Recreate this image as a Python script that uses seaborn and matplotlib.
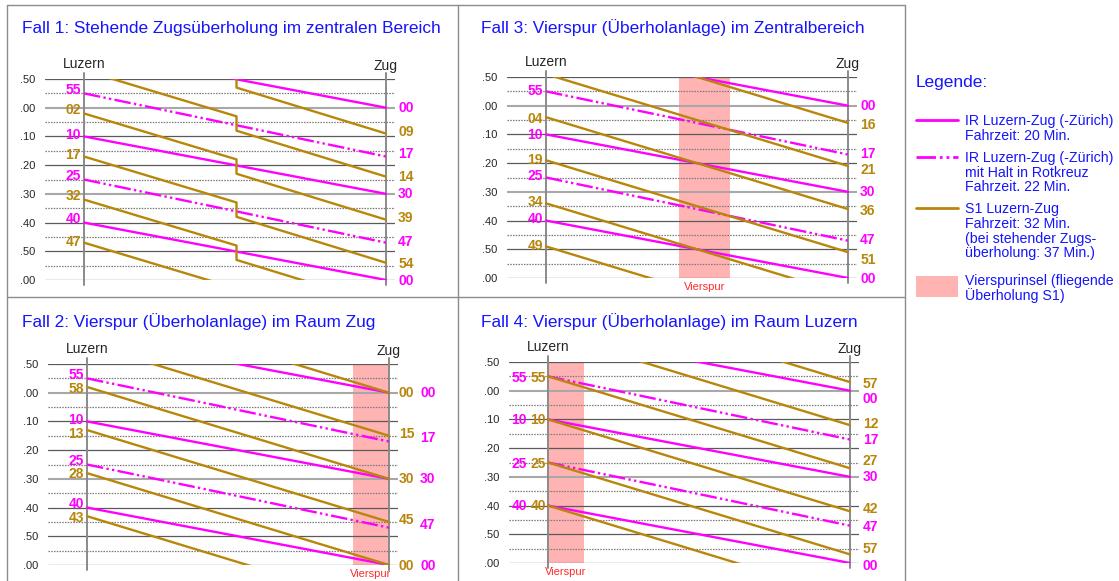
import matplotlib
matplotlib.use("Agg")
import matplotlib.pyplot as plt
from matplotlib.lines import Line2D
from matplotlib.patches import Rectangle
import seaborn as sns
import pandas as pd

# ---------------- data ----------------
TICK_T = [-10, 0, 10, 20, 30, 40, 50, 60]
TICK_LBL = [".50", ".00", ".10", ".20", ".30", ".40", ".50", ".00"]
MINOR_T = [-5, 5, 15, 25, 35, 45, 55]

# IR Luzern-Zug, 20 min
IR_DEP = [-20, 10, 40]
IR_ARR = [0, 30, 60]
# IR with stop in Rotkreuz, 22 min
IRR_DEP = [-35, -5, 25]
IRR_ARR = [-13, 17, 47]

# Fall 1: S1 with standing overtaking in the middle
F1_S1_X = [0.0, 0.505, 0.505, 1.0]
F1_S1_T = [[-28, -12, -7, 9], [-13, 3, 8, 24], [2, 18, 23, 39],
           [17, 33, 38, 54], [32, 48, 53, 69], [47, 63, 68, 84]]
# Fall 2/3/4: S1 32 min
F2_S1_DEP = [-32, -17, -2, 13, 28, 43]
F2_S1_ARR = [0, 15, 30, 45, 60, 75]
F3_S1_DEP = [-26, -11, 4, 19, 34, 49]
F3_S1_ARR = [6, 21, 36, 51, 66, 81]
F4_S1_DEP = [-35, -20, -5, 10, 25, 40]
F4_S1_ARR = [-3, 12, 27, 42, 57, 72]

VIERSPUR = {2: (0.88, 1.0), 3: (0.44, 0.61), 4: (0.0, 0.12)}

TITLES = {1: "Fall 1: Stehende Zugsüberholung im zentralen Bereich",
          2: "Fall 2: Vierspur (Überholanlage) im Raum Zug",
          3: "Fall 3: Vierspur (Überholanlage) im Zentralbereich",
          4: "Fall 4: Vierspur (Überholanlage) im Raum Luzern"}

# time labels: (text, y, colour kind)
P1_LEFT_TXT = ["55", "02", "10", "17", "25", "32", "40", "47"]
P1_LEFT_Y = [-6.3, 0.9, 9.4, 16.4, 23.7, 30.6, 38.7, 46.6]
P1_RIGHT_TXT = ["00", "09", "17", "14", "30", "39", "47", "54", "00"]
P1_RIGHT_Y = [0.0, 8.6, 16.0, 24.3, 30.1, 38.4, 46.6, 54.3, 60.2]

P3_LEFT_TXT = ["55", "04", "10", "19", "25", "34", "40", "49"]
P3_LEFT_Y = [-5.0, 4.6, 10.1, 18.9, 24.5, 33.7, 39.6, 48.9]
P3_RIGHT_TXT = ["00", "16", "17", "21", "30", "36", "47", "51", "00"]
P3_RIGHT_Y = [0.2, 6.6, 16.8, 22.4, 29.9, 36.6, 46.8, 53.8, 60.3]

P2_LEFT_TXT = ["55", "58", "10", "13", "25", "28", "40", "43"]
P2_LEFT_Y = [-6.2, -1.3, 9.5, 14.4, 23.8, 28.4, 38.8, 43.5]
P2_RIGHT_G_TXT = ["00", "15", "30", "45", "00"]
P2_RIGHT_G_Y = [0.0, 14.4, 30.0, 44.4, 60.3]
P2_RIGHT_M_TXT = ["00", "17", "30", "47", "00"]
P2_RIGHT_M_Y = [0.0, 15.7, 30.0, 46.2, 60.3]

P4_LEFT_TXT = ["55", "10", "25", "40"]
P4_LEFT_Y = [-4.4, 10.3, 25.4, 40.3]
P4_RIGHT_TXT = ["57", "00", "12", "17", "27", "30", "42", "47", "57", "00"]
P4_RIGHT_Y = [-2.5, 2.8, 11.5, 17.3, 24.6, 30.1, 41.1, 47.5, 55.0, 61.2]

# ---------------- style ----------------
W, H = 1119, 581
MAG = "#FF00FF"
GOLD = "#B8860B"
PINK = "#FFB3B3"
BLUE = "#1414FF"
RED = "#FF2A2A"
PAL = {"IR": MAG, "IRR": MAG, "S1": GOLD}
DASHES = {"IR": "", "IRR": (7, 1.4, 1, 1.4, 1, 1.4), "S1": ""}

sns.set_style("white")
plt.rcParams['font.family'] = ['Liberation Sans', 'DejaVu Sans']

fig = plt.figure(figsize=(W / 100, H / 100), dpi=100)


def fx(px):
    return px / W


def fy(py):
    return 1 - py / H


UNIT = 302.0
AX_H = 201.0


def build_df(s1_x, s1_t):
    rows = []
    tid = 0
    for d, a in zip(IR_DEP, IR_ARR):
        for x, t in zip([0.0, 1.0], [d, a]):
            rows.append(dict(train=tid, kind="IR", x=x, t=t))
        tid += 1
    for d, a in zip(IRR_DEP, IRR_ARR):
        for x, t in zip([0.0, 1.0], [d, a]):
            rows.append(dict(train=tid, kind="IRR", x=x, t=t))
        tid += 1
    for ts in s1_t:
        for x, t in zip(s1_x, ts):
            rows.append(dict(train=tid, kind="S1", x=x, t=t))
        tid += 1
    return pd.DataFrame(rows)


def make_panel(case, lx, ty, df):
    left = lx - 0.13 * UNIT
    ax = fig.add_axes([fx(left), fy(ty + AX_H), 1.16 * UNIT / W, AX_H / H])
    ax.set_facecolor("white")
    if case in VIERSPUR:
        a, b = VIERSPUR[case]
        ax.axvspan(a, b, color=PINK, lw=0, zorder=0)
    for t in TICK_T:
        if t in (0, 30):
            ax.axhline(t, color="#A8A8A8", lw=1.5, zorder=1)
        else:
            ax.axhline(t, color="#5A5A5A", lw=0.9, zorder=1)
    for t in MINOR_T:
        ax.axhline(t, color="#7A7A7A", lw=0.9, ls=(0, (1.2, 1.0)), zorder=1)
    for xs in (0.0, 1.0):
        ax.plot([xs, xs], [-12.1, 61.7], color="#8A8A8A", lw=1.4,
                clip_on=False, zorder=2)
    sns.lineplot(data=df, x="x", y="t", hue="kind", style="kind",
                 units="train", estimator=None, sort=False, palette=PAL,
                 dashes=DASHES, lw=1.7, legend=False, ax=ax, zorder=3)
    ax.set_xlim(-0.13, 1.03)
    ax.set_ylim(60, -10)
    ax.set_xlabel("")
    ax.set_ylabel("")
    ax.set_xticks([])
    ax.set_yticks(TICK_T)
    ax.set_yticklabels(TICK_LBL, fontsize=8)
    ax.tick_params(axis="y", length=0, pad=7)
    for s in ax.spines.values():
        s.set_visible(False)
    ax.text(0, -13.8, "Luzern", ha="center", va="baseline", fontsize=10)
    ax.text(1, -13.1, "Zug", ha="center", va="baseline", fontsize=10)
    if case in VIERSPUR:
        a, b = VIERSPUR[case]
        ax.text((a + b) / 2, 63.3, "Vierspur", color=RED, fontsize=8,
                ha="center", va="center")
    return ax


def lbl(ax, x, y, txt, col, ha):
    ax.text(x, y, txt, color=col, fontsize=10, fontweight="bold",
            ha=ha, va="center", zorder=4)


def alt(i):
    return MAG if i % 2 == 0 else GOLD


# Fall 1
ax1 = make_panel(1, 84, 79, build_df(F1_S1_X, F1_S1_T))
for i, (t, y) in enumerate(zip(P1_LEFT_TXT, P1_LEFT_Y)):
    lbl(ax1, -0.01, y, t, alt(i), "right")
for i, (t, y) in enumerate(zip(P1_RIGHT_TXT, P1_RIGHT_Y)):
    lbl(ax1, 1.04, y, t, alt(i), "left")

# Fall 3
ax3 = make_panel(3, 546, 77, build_df([0.0, 1.0], [[d, a] for d, a in zip(F3_S1_DEP, F3_S1_ARR)]))
for i, (t, y) in enumerate(zip(P3_LEFT_TXT, P3_LEFT_Y)):
    lbl(ax3, -0.01, y, t, alt(i), "right")
for i, (t, y) in enumerate(zip(P3_RIGHT_TXT, P3_RIGHT_Y)):
    lbl(ax3, 1.04, y, t, alt(i), "left")

# Fall 2
ax2 = make_panel(2, 87, 364, build_df([0.0, 1.0], [[d, a] for d, a in zip(F2_S1_DEP, F2_S1_ARR)]))
for i, (t, y) in enumerate(zip(P2_LEFT_TXT, P2_LEFT_Y)):
    lbl(ax2, -0.01, y, t, alt(i), "right")
for t, y in zip(P2_RIGHT_G_TXT, P2_RIGHT_G_Y):
    lbl(ax2, 1.033, y, t, GOLD, "left")
for t, y in zip(P2_RIGHT_M_TXT, P2_RIGHT_M_Y):
    lbl(ax2, 1.103, y, t, MAG, "left")

# Fall 4
ax4 = make_panel(4, 548, 362, build_df([0.0, 1.0], [[d, a] for d, a in zip(F4_S1_DEP, F4_S1_ARR)]))
for t, y in zip(P4_LEFT_TXT, P4_LEFT_Y):
    lbl(ax4, -0.07, y, t, MAG, "right")
    lbl(ax4, -0.007, y, t, GOLD, "right")
for i, (t, y) in enumerate(zip(P4_RIGHT_TXT, P4_RIGHT_Y)):
    lbl(ax4, 1.043, y, t, GOLD if i % 2 == 0 else MAG, "left")

# titles
for case, (px, py) in {1: (22, 28), 3: (481, 28), 2: (22, 322), 4: (481, 322)}.items():
    fig.text(fx(px), fy(py), TITLES[case], color=BLUE, fontsize=12.4,
             ha="left", va="center")

# panel borders
BORDER = "#8C8C8C"
for (x0, y0, x1, y1) in [(7, 5, 7, 581), (7, 5, 905, 5), (458, 5, 458, 581),
                         (905, 5, 905, 581), (7, 297, 905, 297)]:
    fig.add_artist(Line2D([fx(x0), fx(x1)], [fy(y0), fy(y1)], color=BORDER, lw=1.0))

# legend
fig.text(fx(916), fy(83), "Legende:", color=BLUE, fontsize=12.4, ha="left", va="center")
fig.add_artist(Line2D([fx(916), fx(958)], [fy(120), fy(120)], color=MAG, lw=2.0))
fig.add_artist(Line2D([fx(916), fx(958)], [fy(157), fy(157)], color=MAG, lw=2.0,
                      dashes=(7, 1.4, 1, 1.4, 1, 1.4)))
fig.add_artist(Line2D([fx(916), fx(958)], [fy(208), fy(208)], color=GOLD, lw=2.0))
fig.add_artist(Rectangle((fx(916), fy(297)), fx(958) - fx(916), fy(276) - fy(297),
                         color=PINK, lw=0))
LEG_LINES = [("IR Luzern-Zug (-Zürich)", 121), ("Fahrzeit: 20 Min.", 136),
             ("IR Luzern-Zug (-Zürich)", 158), ("mit Halt in Rotkreuz", 173),
             ("Fahrzeit. 22 Min.", 187),
             ("S1 Luzern-Zug", 209), ("Fahrzeit: 32 Min.", 224),
             ("(bei stehender Zugs-", 239), ("überholung: 37 Min.)", 253),
             ("Vierspurinsel (fliegende", 281), ("Überholung S1)", 296)]
for txt, py in LEG_LINES:
    fig.text(fx(965), fy(py), txt, color=BLUE, fontsize=10.2, ha="left", va="center")

fig.savefig("out.png", dpi=100, facecolor="white")
